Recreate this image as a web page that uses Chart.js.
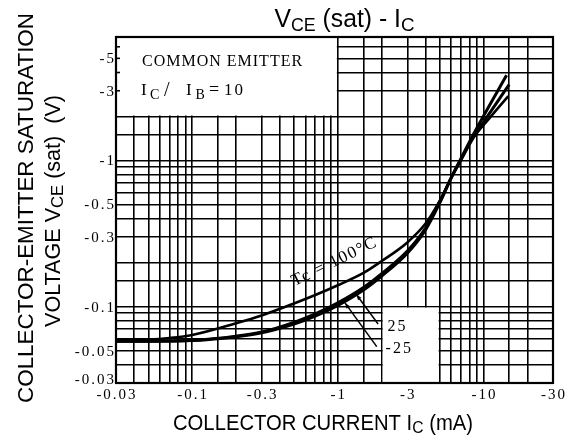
<!DOCTYPE html>
<html><head><meta charset="utf-8">
<script src="https://cdn.jsdelivr.net/npm/chart.js@4.4.0/dist/chart.umd.min.js"></script>
<style>html,body{margin:0;padding:0;background:#fff;}</style>
</head><body>
<canvas id="c" width="570" height="444"></canvas>
<script>
// ---- data ----
const currentTc100 = [0.03, 0.05, 0.07, 0.1, 0.2, 0.3, 0.5, 0.7, 1, 1.5, 2, 3, 4, 5, 6, 7, 8.5, 11, 14.8];
const vceTc100     = [0.059, 0.0595, 0.061, 0.064, 0.077, 0.087, 0.105, 0.12, 0.14, 0.17, 0.205, 0.275, 0.37, 0.53, 0.76, 1.0, 1.42, 1.95, 2.76];
const currentTc25  = [0.03, 0.05, 0.1, 0.2, 0.3, 0.5, 0.7, 1, 1.5, 2, 3, 4, 5, 6, 7, 8.5, 10.3, 15];
const vceTc25      = [0.058, 0.058, 0.0588, 0.0628, 0.067, 0.078, 0.089, 0.106, 0.135, 0.168, 0.24, 0.345, 0.52, 0.76, 1.02, 1.45, 1.91, 3.31];
const currentTcM25 = [0.03, 0.05, 0.1, 0.2, 0.3, 0.5, 0.7, 1, 1.5, 2, 3, 4, 5, 6, 7, 8.5, 9.7, 14.4];
const vceTcM25     = [0.058, 0.058, 0.0585, 0.0622, 0.0662, 0.076, 0.086, 0.102, 0.13, 0.162, 0.232, 0.335, 0.51, 0.76, 1.03, 1.5, 1.91, 3.83];

const xTickValues = [0.03, 0.1, 0.3, 1, 3, 10, 30];
const xTickLabels = ['-0.03', '-0.1', '-0.3', '-1', '-3', '-10', '-30'];
const yTickValues = [0.03, 0.05, 0.1, 0.3, 0.5, 1, 3, 5];
const yTickLabels = ['-0.03', '-0.05', '-0.1', '-0.3', '-0.5', '-1', '-3', '-5'];

const xRange = [0.03, 30];
const yRange = [0.03, 7];

function pts(xs, ys) { return xs.map((x, i) => ({x: x, y: ys[i]})); }

const SANS = '"Liberation Sans", Arial, sans-serif';
const SERIF = '"Liberation Serif", "Times New Roman", serif';

function setLS(ctx, v) { try { ctx.letterSpacing = v; } catch (e) {} }

function drawParts(ctx, parts, x, y, opts) {
  ctx.save();
  setLS(ctx, '0px');
  ctx.translate(x, y);
  if (opts.rotate) ctx.rotate(opts.rotate);
  let w = 0;
  parts.forEach(p => { ctx.font = p.font; w += ctx.measureText(p.t).width; });
  const sx = opts.width ? opts.width / w : 1;
  ctx.scale(sx, 1);
  let cx = opts.align === 'center' ? -w / 2 : 0;
  ctx.textAlign = 'left';
  ctx.textBaseline = 'alphabetic';
  ctx.fillStyle = '#000';
  parts.forEach(p => { ctx.font = p.font; ctx.fillText(p.t, cx, p.dy || 0); cx += ctx.measureText(p.t).width; });
  ctx.restore();
}

const decor = {
  id: 'decor',
  beforeDatasetsDraw(chart) {
    const ctx = chart.ctx, a = chart.chartArea;
    const xs = chart.scales.x, ys = chart.scales.y;
    ctx.save();
    ctx.fillStyle = '#fff';
    // legend box (blank grid)
    ctx.fillRect(a.left + 1, a.top + 1, xs.getPixelForValue(1) - a.left - 2, ys.getPixelForValue(2) - a.top - 2);
    // annotation box
    const bx0 = xs.getPixelForValue(2), bx1 = xs.getPixelForValue(5), by0 = ys.getPixelForValue(0.1);
    ctx.fillRect(bx0 + 1, by0 + 1, bx1 - bx0 - 2, a.bottom - by0 - 2);
    // small stubs on left border inside the box
    ctx.strokeStyle = '#000'; ctx.lineWidth = 1.6;
    [3, 4, 5, 6].forEach(v => {
      const y = ys.getPixelForValue(v);
      ctx.beginPath(); ctx.moveTo(a.left, y); ctx.lineTo(a.left + 4, y); ctx.stroke();
    });
    ctx.restore();
  },
  afterDraw(chart) {
    const ctx = chart.ctx, a = chart.chartArea;
    const xs = chart.scales.x, ys = chart.scales.y;
    ctx.save();
    // frame
    ctx.strokeStyle = '#000'; ctx.lineWidth = 2.2;
    ctx.strokeRect(a.left, a.top, a.right - a.left, a.bottom - a.top);

    // tick labels
    ctx.fillStyle = '#000';
    ctx.font = '15px ' + SERIF;
    setLS(ctx, '2px');
    ctx.textBaseline = 'alphabetic';
    ctx.textAlign = 'center';
    xTickValues.forEach((v, i) => {
      const w = ctx.measureText(xTickLabels[i]).width;
      let x = xs.getPixelForValue(v);
      x = Math.min(x, 570 - w / 2 - 1);
      ctx.fillText(xTickLabels[i], x + 1, a.bottom + 16);
    });
    ctx.textAlign = 'right';
    yTickValues.forEach((v, i) => {
      const y = Math.min(ys.getPixelForValue(v) + 5, a.bottom + 1);
      ctx.fillText(yTickLabels[i], a.left, y);
    });

    // legend text
    ctx.textAlign = 'left';
    ctx.font = '16px ' + SERIF;
    setLS(ctx, '1px');
    ctx.fillText('COMMON EMITTER', a.left + 26, a.top + 29);
    setLS(ctx, '0px');
    const lx = a.left, ly = a.top;
    ctx.font = '17px ' + SERIF; ctx.fillText('I', lx + 25, ly + 57.5);
    ctx.font = '14px ' + SERIF; ctx.fillText('C', lx + 34, ly + 61.5);
    ctx.font = '20px ' + SERIF; ctx.fillText('/', lx + 48, ly + 59);
    ctx.font = '17px ' + SERIF; ctx.fillText('I', lx + 70, ly + 57.5);
    ctx.font = '14px ' + SERIF; ctx.fillText('B', lx + 79.5, ly + 61.5);
    ctx.font = '18px ' + SERIF; ctx.fillText('=', lx + 93, ly + 57.5);
    setLS(ctx, '2px');
    ctx.font = '17px ' + SERIF; ctx.fillText('10', lx + 108, ly + 57.5);

    // curve labels
    ctx.save();
    ctx.translate(xs.getPixelForValue(0.98), ys.getPixelForValue(0.19));
    ctx.rotate(-26 * Math.PI / 180);
    ctx.textAlign = 'center';
    ctx.font = '17px ' + SERIF;
    setLS(ctx, '1.5px');
    ctx.fillText('Tc = 100°C', 0, 0);
    ctx.restore();
    ctx.textAlign = 'left';
    ctx.font = '16px ' + SERIF;
    setLS(ctx, '2px');
    ctx.fillText('25', xs.getPixelForValue(2.16) + 1, ys.getPixelForValue(0.068));
    ctx.fillText('-25', xs.getPixelForValue(2.16) - 1, ys.getPixelForValue(0.0482));
    setLS(ctx, '0px');

    // leader lines
    ctx.strokeStyle = '#000'; ctx.lineWidth = 1.5;
    const leaders = [[1.89, 0.0761, 1.34, 0.121], [1.85, 0.0532, 1.12, 0.106]];
    leaders.forEach(l => {
      const x0 = xs.getPixelForValue(l[0]), y0 = ys.getPixelForValue(l[1]);
      const x1 = xs.getPixelForValue(l[2]), y1 = ys.getPixelForValue(l[3]);
      ctx.beginPath(); ctx.moveTo(x0, y0); ctx.lineTo(x1, y1); ctx.stroke();
      const ang = Math.atan2(y1 - y0, x1 - x0);
      ctx.beginPath();
      ctx.moveTo(x1, y1);
      ctx.lineTo(x1 - 6 * Math.cos(ang - 0.35), y1 - 6 * Math.sin(ang - 0.35));
      ctx.lineTo(x1 - 6 * Math.cos(ang + 0.35), y1 - 6 * Math.sin(ang + 0.35));
      ctx.closePath(); ctx.fill();
    });

    // titles
    drawParts(ctx, [
      {t: 'V', font: '25px ' + SANS},
      {t: 'CE', font: '18px ' + SANS, dy: 4},
      {t: ' (sat) - I', font: '25px ' + SANS},
      {t: 'C', font: '19px ' + SANS, dy: 4}
    ], 344.5, 27, {align: 'center', width: 140});
    drawParts(ctx, [
      {t: 'COLLECTOR CURRENT I', font: '22px ' + SANS},
      {t: 'C', font: '17px ' + SANS, dy: 3},
      {t: ' (mA)', font: '22px ' + SANS}
    ], 323, 430, {align: 'center', width: 300});
    drawParts(ctx, [
      {t: 'COLLECTOR-EMITTER SATURATION', font: '22px ' + SANS}
    ], 33, 208, {align: 'center', width: 390, rotate: -Math.PI / 2});
    drawParts(ctx, [
      {t: 'VOLTAGE V', font: '22px ' + SANS},
      {t: 'CE', font: '17px ' + SANS, dy: 3},
      {t: ' (sat)  (V)', font: '22px ' + SANS}
    ], 60, 211, {align: 'center', width: 232, rotate: -Math.PI / 2});
    ctx.restore();
  }
};

const lineStyle = {borderColor: '#000', borderWidth: 3, pointRadius: 0, fill: false, cubicInterpolationMode: 'monotone'};

new Chart(document.getElementById('c'), {
  type: 'line',
  data: {
    datasets: [
      Object.assign({label: 'Tc = 100°C', data: pts(currentTc100, vceTc100)}, lineStyle, {borderWidth: 2.6}),
      Object.assign({label: '25', data: pts(currentTc25, vceTc25)}, lineStyle),
      Object.assign({label: '-25', data: pts(currentTcM25, vceTcM25)}, lineStyle)
    ]
  },
  options: {
    responsive: false,
    animation: false,
    devicePixelRatio: 1,
    layout: {padding: {left: 116, right: 17, top: 37, bottom: 61}},
    plugins: {legend: {display: false}, tooltip: {enabled: false}},
    scales: {
      x: {
        type: 'logarithmic', min: xRange[0], max: xRange[1],
        ticks: {display: false, autoSkip: false},
        grid: {color: '#000', lineWidth: 1.6, drawTicks: false},
        border: {display: true, color: '#000', width: 2}
      },
      y: {
        type: 'logarithmic', min: yRange[0], max: yRange[1],
        ticks: {display: false, autoSkip: false},
        grid: {color: '#000', lineWidth: 1.6, drawTicks: false},
        border: {display: true, color: '#000', width: 2}
      }
    }
  },
  plugins: [decor]
});
</script>
</body></html>
